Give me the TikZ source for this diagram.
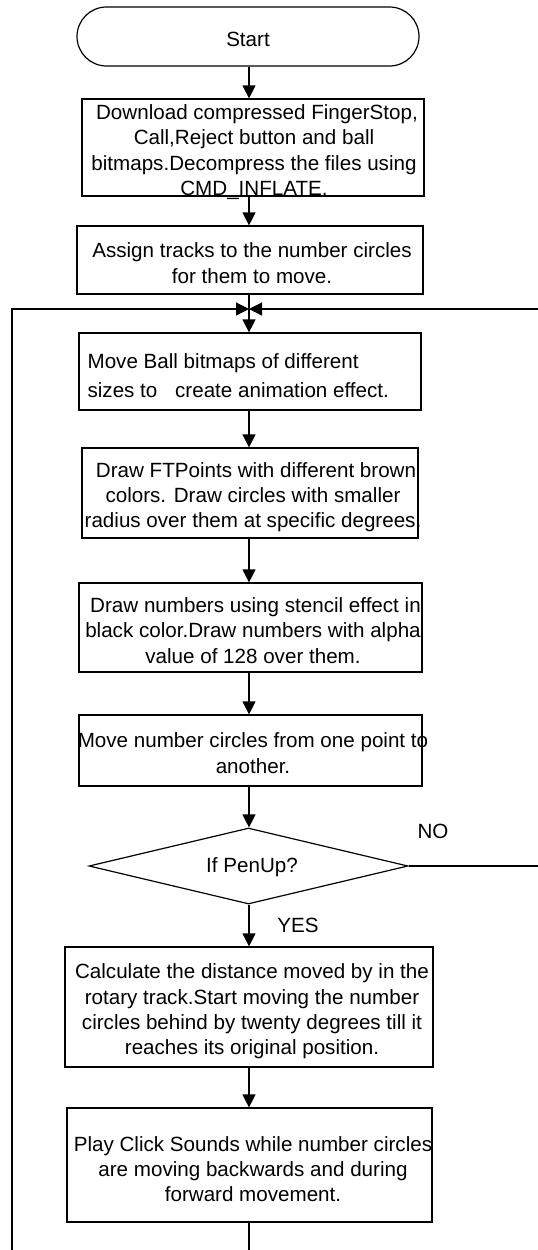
\documentclass[tikz,border=0pt]{standalone}
\usepackage{fontspec}
\setmainfont{Liberation Sans}
\usetikzlibrary{shapes.misc,shapes.geometric,arrows.meta}
\begin{document}
\begin{tikzpicture}[x=1pt,y=-1pt,
  line width=1.2pt,
  box/.style={draw, rectangle, inner sep=0pt},
  txt/.style={align=center, inner sep=0pt, font=\fontsize{20.6}{25.3}\selectfont},
  arr/.style={-{Triangle[length=13pt,width=13pt]}},
]
\useasboundingbox (0,0) rectangle (538,1250);

% shapes
\node[draw, rounded rectangle, minimum width=342pt, minimum height=59pt, inner sep=0pt] (start) at (248,36.5) {};
\node[txt] (tstart) at (248,39) {Start};

\node[box, minimum width=342pt, minimum height=97pt] (b1) at (253,147.5) {};
\node[txt] (t1) at (254,152) {\hspace*{6pt}Download compressed FingerStop,\\Call,Reject button and ball\\bitmaps.Decompress the files using\\CMD\_INFLATE.};

\node[box, minimum width=346pt, minimum height=68pt] (b2) at (250,260) {};
\node[txt] (t2) at (252,263) {Assign tracks to the number circles\\for them to move.};

\node[box, minimum width=342pt, minimum height=77pt] (b3) at (250,371.5) {};
\node[txt, align=left, anchor=west] (t3) at (87,375.5) {Move Ball bitmaps of different\\[3.7pt]sizes to\hspace{12pt} create animation effect.};

\node[box, minimum width=336pt, minimum height=90pt] (b4) at (250,493) {};
\node[txt] (t4) at (253,497) {\hspace*{6pt}Draw FTPoints with different brown\\colors. Draw circles with smaller\\radius over them at specific degrees.};

\node[box, minimum width=343pt, minimum height=89pt] (b5) at (250.5,627.5) {};
\node[txt] (t5) at (253,630.5) {\hspace*{5pt}Draw numbers using stencil effect in\\black color.Draw numbers with alpha\\value of 128 over them.};

\node[box, minimum width=343pt, minimum height=71pt] (b6) at (250.5,750.5) {};
\node[txt] (t6) at (253,753) {Move number circles from one point to\\another.};

\node[draw, diamond, minimum width=319pt, minimum height=76pt, inner sep=0pt] (dec) at (248.5,866) {};
\node[txt] (tdec) at (252,867) {If PenUp?};

\node[txt] (no) at (433,831) {NO};
\node[txt] (yes) at (298,925) {YES};

\node[box, minimum width=368pt, minimum height=120pt] (b7) at (249,1007) {};
\node[txt] (t7) at (252,1011.5) {Calculate the distance moved by in the\\rotary track.Start moving the number\\circles behind by twenty degrees till it\\reaches its original position.};

\node[box, minimum width=365pt, minimum height=114pt] (b8) at (249.5,1165) {};
\node[txt] (t8) at (253,1169) {Play Click Sounds while number circles\\are moving backwards and during\\forward movement.};

% helper coordinates
\coordinate (ax) at (249,0);
\coordinate (J) at (249,309);
\coordinate (L) at (12,309);
\coordinate (R) at (540,309);
\coordinate (Rd) at (540,866);
\coordinate (bot) at (249,1262);
\coordinate (botL) at (12,1262);

% connectors
\draw[arr] (start.south -| ax) -- (b1.north -| ax);
\draw[arr] (b1.south -| ax) -- (b2.north -| ax);
\draw (b2.south -| ax) -- (J);
\draw[arr] (J) -- (b3.north -| ax);
\draw[arr] (b3.south -| ax) -- (b4.north -| ax);
\draw[arr] (b4.south -| ax) -- (b5.north -| ax);
\draw[arr] (b5.south -| ax) -- (b6.north -| ax);
\draw[arr] (b6.south -| ax) -- (dec.north -| ax);
\draw[arr] (dec.south -| ax) -- (b7.north -| ax);
\draw[arr] (b7.south -| ax) -- (b8.north -| ax);
\draw[arr] (b8.south -| ax) -- (bot) -- (botL) -- (L) -- (J);
\draw[arr] (dec.east) -- (Rd) -- (R) -- (J);
\end{tikzpicture}
\end{document}
